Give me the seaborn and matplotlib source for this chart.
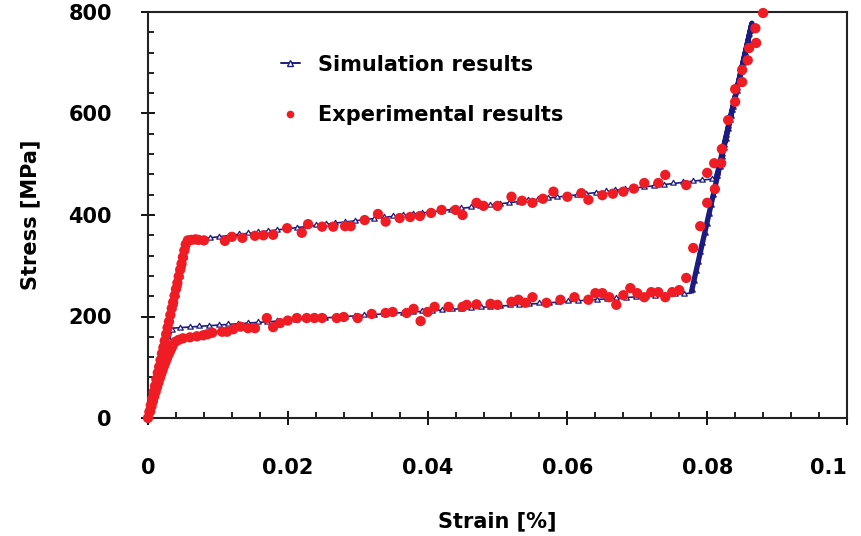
import matplotlib
matplotlib.use("Agg")
import numpy as np
import matplotlib.pyplot as plt
import seaborn as sns
import pandas as pd
from matplotlib.ticker import MultipleLocator
from matplotlib.lines import Line2D
from matplotlib.patheffects import AbstractPathEffect
from matplotlib.path import Path
from matplotlib.transforms import Affine2D, IdentityTransform
from matplotlib.colors import to_rgba

# ---- data ----
sim_strain = [0.0, 0.0057, 0.0813, 0.0864, 0.0777, 0.0035, 0.0]
sim_stress = [0, 350, 472, 778, 246, 177, 0]

exp_strain = [
    0.0, 0.0002, 0.0004, 0.0006, 0.0008, 0.0010, 0.0012, 0.0014, 0.0016, 0.0018,
    0.0020, 0.0022, 0.0024, 0.0026, 0.0028, 0.0030, 0.0032, 0.0034, 0.0036, 0.0038,
    0.0040, 0.0042, 0.0044, 0.0046, 0.0048, 0.0050, 0.0052, 0.0054, 0.0057,
    0.0062, 0.0068, 0.0072, 0.0080, 0.0110, 0.0120, 0.0135, 0.0153, 0.0165, 0.0179,
    0.0199, 0.0220, 0.0229, 0.0249, 0.0265, 0.0282, 0.0290, 0.0310, 0.0329, 0.0340,
    0.0360, 0.0375, 0.0389, 0.0405, 0.0420, 0.0440, 0.0450, 0.0470, 0.0480, 0.0500,
    0.0520, 0.0535, 0.0550, 0.0565, 0.0580, 0.0600, 0.0620, 0.0630, 0.0650, 0.0665,
    0.0680, 0.0695, 0.0710, 0.0730, 0.0740, 0.0770, 0.0800, 0.0810, 0.0820,
    0.0821, 0.0830, 0.0840, 0.0840, 0.0850, 0.0850, 0.0858, 0.0860, 0.0870, 0.0869, 0.0880,
    0.0811, 0.0800, 0.0790, 0.0780, 0.0770, 0.0760, 0.0750, 0.0740, 0.0730, 0.0720,
    0.0710, 0.0700, 0.0690, 0.0680, 0.0670, 0.0660, 0.0650, 0.0640, 0.0630, 0.0610,
    0.0590, 0.0570, 0.0550, 0.0540, 0.0530, 0.0520, 0.0500, 0.0490, 0.0470, 0.0456, 0.0450,
    0.0430, 0.0410, 0.0400, 0.0390, 0.0380, 0.0370, 0.0350, 0.0340, 0.0320, 0.0300,
    0.0280, 0.0270, 0.0249, 0.0238, 0.0227, 0.0213, 0.0200, 0.0189, 0.0179, 0.0170, 0.0153, 0.0143,
    0.0132, 0.0122, 0.0113, 0.0106, 0.0092, 0.0085, 0.0079, 0.0070, 0.0060, 0.0050, 0.0044, 0.0039,
    0.0035, 0.0033, 0.0031, 0.0029, 0.0027, 0.0025, 0.0023, 0.0021, 0.0019, 0.0017,
    0.0015, 0.0013, 0.0011, 0.0009, 0.0007, 0.0005, 0.0003,
]
exp_stress = [
    0, 12, 25, 38, 51, 63, 76, 89, 101, 114,
    127, 139, 152, 165, 178, 190, 203, 216, 228, 241,
    254, 266, 279, 292, 304, 317, 330, 342, 350,
    351, 352, 351, 350, 349, 357, 355, 359, 360, 361,
    374, 365, 382, 377, 377, 378, 378, 390, 402, 387,
    394, 396, 398, 404, 410, 410, 400, 424, 418, 418,
    436, 428, 424, 432, 446, 436, 443, 430, 439, 442,
    446, 452, 463, 463, 479, 459, 483, 502, 502,
    530, 587, 623, 648, 662, 686, 705, 729, 739, 768, 798,
    451, 424, 378, 335, 276, 252, 248, 238, 248, 248,
    238, 246, 256, 242, 223, 238, 246, 246, 233, 238,
    233, 227, 238, 227, 233, 229, 223, 225, 224, 223, 219,
    219, 219, 209, 191, 215, 207, 209, 207, 205, 197,
    199, 197, 197, 197, 197, 197, 192, 187, 179, 197, 177, 177,
    180, 175, 170, 170, 168, 165, 163, 161, 159, 157, 154, 150,
    142, 136, 130, 124, 117, 110, 103, 95, 87, 79,
    70, 61, 52, 43, 33, 23, 13,
]

x_ticks = [0, 0.02, 0.04, 0.06, 0.08, 0.1]
x_tick_labels = ["0", "0.02", "0.04", "0.06", "0.08", "0.1"]
y_ticks = [0, 200, 400, 600, 800]
y_tick_labels = ["0", "200", "400", "600", "800"]

sim_df = pd.DataFrame({"strain": sim_strain, "stress": sim_stress})
exp_df = pd.DataFrame({"strain": exp_strain, "stress": exp_stress})


class TriangleStamps(AbstractPathEffect):
    """Draw the line, then stamp hollow triangles at a fixed screen spacing
    along it (a purely decorative line style)."""

    def __init__(self, spacing_pt=7.0, size_pt=4.5, edgecolor="navy",
                 facecolor="white", edgewidth=0.9):
        super().__init__()
        self.spacing_pt = spacing_pt
        self.size_pt = size_pt
        self.edgecolor = edgecolor
        self.facecolor = facecolor
        self.edgewidth = edgewidth

    def draw_path(self, renderer, gc, tpath, affine, rgbFace=None):
        renderer.draw_path(gc, tpath, affine, rgbFace)
        verts = affine.transform(tpath.vertices)
        if len(verts) < 2:
            return
        seg = np.diff(verts, axis=0)
        seglen = np.hypot(seg[:, 0], seg[:, 1])
        cum = np.concatenate([[0], np.cumsum(seglen)])
        step = renderer.points_to_pixels(self.spacing_pt)
        dists = np.arange(0, cum[-1] + 1e-9, step)
        px = np.interp(dists, cum, verts[:, 0])
        py = np.interp(dists, cum, verts[:, 1])
        pts = Path(np.column_stack([px, py]))
        size = renderer.points_to_pixels(self.size_pt) / 2.0
        marker = Path.unit_regular_polygon(3)
        gc0 = renderer.new_gc()
        gc0.copy_properties(gc)
        gc0.set_foreground(self.edgecolor)
        gc0.set_linewidth(self.edgewidth)
        gc0.set_dashes(0, None)
        renderer.draw_markers(gc0, marker, Affine2D().scale(size), pts,
                              IdentityTransform(), to_rgba(self.facecolor))
        gc0.restore()


# ---- style ----
sns.set_theme(style="white")
plt.rcParams["font.family"] = ["DejaVu Sans"]
plt.rcParams["font.weight"] = "bold"
plt.rcParams["text.color"] = "black"
plt.rcParams["axes.labelcolor"] = "black"

NAVY = "#1c1c80"
RED = "#f01c24"

fig = plt.figure(figsize=(8.61, 5.36), dpi=100)
ax = fig.add_axes([148 / 861, 1 - 418 / 536, 699 / 861, 406 / 536])

# simulation: thin navy line with densely spaced hollow triangles
sns.lineplot(data=sim_df, x="strain", y="stress", sort=False, estimator=None,
             ax=ax, color=NAVY, linewidth=1.2, zorder=2, legend=False,
             path_effects=[TriangleStamps(spacing_pt=7.0, size_pt=4.6,
                                          edgecolor=NAVY, facecolor="white",
                                          edgewidth=0.9)])
# the steep branches are drawn with densely packed markers -> looks thicker
ax.plot(sim_df["strain"].iloc[2:5], sim_df["stress"].iloc[2:5], color=NAVY,
        linewidth=3.8, zorder=2.1, solid_capstyle="butt")

sns.scatterplot(data=exp_df, x="strain", y="stress", ax=ax, color=RED,
                s=55, edgecolor="none", linewidth=0, zorder=3, legend=False,
                clip_on=False)

ax.set_xlim(0, 0.1)
ax.set_ylim(0, 800)
ax.set_xticks(x_ticks)
ax.set_xticklabels(x_tick_labels)
ax.set_yticks(y_ticks)
ax.set_yticklabels(y_tick_labels)
ax.xaxis.set_minor_locator(MultipleLocator(0.004))
ax.yaxis.set_minor_locator(MultipleLocator(40))

ax.tick_params(which="both", bottom=True, left=True, top=False, right=False)
ax.tick_params(axis="both", which="major", direction="inout", length=10, width=1.4,
               color="#111111", labelsize=15, labelcolor="black")
ax.tick_params(axis="x", which="major", pad=24)
ax.tick_params(axis="y", which="major", pad=21)
ax.tick_params(axis="both", which="minor", direction="in", length=4.5, width=1.3,
               color="#111111")
ax.get_xticklabels()[-1].set_horizontalalignment("right")

for sp in ax.spines.values():
    sp.set_visible(True)
    sp.set_linewidth(1.5)
    sp.set_color("#222222")

ax.set_xlabel("Strain [%]", fontsize=15, fontweight="bold", labelpad=24)
ax.set_ylabel("Stress [MPa]", fontsize=15, fontweight="bold", labelpad=20)

handles = [
    Line2D([0], [0], color=NAVY, linewidth=1.4, marker="^", markersize=4.5,
           markerfacecolor="white", markeredgecolor=NAVY),
    Line2D([0], [0], color=RED, linestyle="none", marker="o", markersize=5.5,
           markeredgewidth=0),
]
ax.legend(handles, ["Simulation results", "Experimental results"],
          loc="upper left", bbox_to_anchor=(0.19, 0.895), frameon=False,
          handlelength=0.9, handletextpad=0.9, labelspacing=1.45,
          borderpad=0, borderaxespad=0, prop={"weight": "bold", "size": 15})

fig.savefig("out.png", dpi=100)
